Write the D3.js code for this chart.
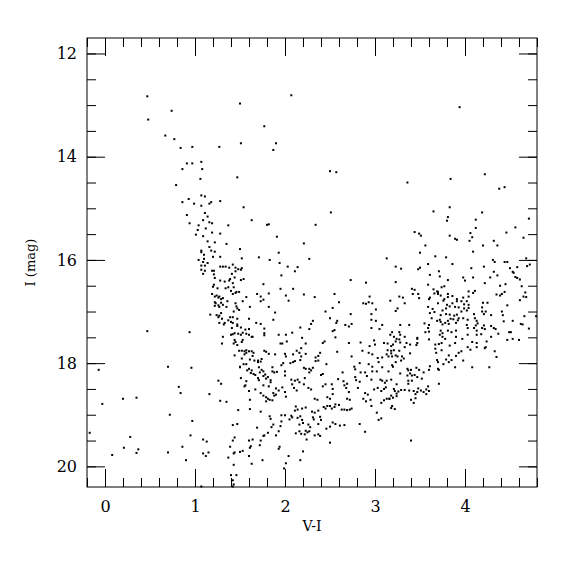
<!DOCTYPE html>
<html>
<head>
<meta charset="utf-8">
<script src="https://cdn.jsdelivr.net/npm/d3@7"></script>
<style>
  body { margin: 0; background: #fff; }
  svg text { font-family: "DejaVu Serif", serif; fill: #000; }
</style>
</head>
<body>
<div id="chart"></div>
<script>
// axis ticks
const xMajorTicks = [0, 1, 2, 3, 4];
const yMajorTicks = [12, 14, 16, 18, 20];

// stars: [V-I, I]
const brightStars = [
  [0.47,12.83],[0.74,13.11],[0.48,13.28],[0.67,13.59],[0.77,13.66],[0.84,13.83],[0.97,13.81],[1.27,13.81],
  [1.07,14.10],[0.91,14.13],[0.97,14.13],[1.08,14.24],[0.86,14.24],[1.06,14.43],[0.79,14.55],[1.47,14.40],
  [2.07,12.81],[1.50,12.97],[1.77,13.41],[1.51,13.74],[1.90,13.74],[1.87,13.87],[2.50,14.28],[2.57,14.30],
  [3.94,13.04],[3.36,14.50],[3.84,14.43],[4.22,14.34],[4.44,14.59]
];

const blueBranch = [
  [1.07,14.75],[1.11,14.77],[0.93,14.82],[0.86,14.88],[0.99,14.91],[1.18,14.88],[1.16,14.91],[1.28,14.86],
  [1.07,14.95],[1.11,15.09],[0.91,15.13],[1.14,15.16],[1.09,15.23],[0.94,15.29],[1.16,15.27],[1.19,15.29],
  [1.04,15.33],[1.37,15.33],[1.12,15.39],[1.03,15.42],[1.19,15.47],[1.28,15.49],[1.01,15.51],[1.09,15.54],
  [1.14,15.64],[1.22,15.66],[1.35,15.69],[1.16,15.75],[1.18,15.82],[1.07,15.82],[1.07,15.85],[1.22,15.84],
  [1.10,15.90],[1.20,15.94],[1.28,15.94],[1.04,16.00],[1.10,15.98],[1.14,16.06],[1.09,16.04],[1.07,16.11],
  [1.11,16.11],[1.28,16.13],[1.31,16.13],[1.34,16.13],[1.38,16.15],[1.42,16.09],[1.45,16.15],[1.07,16.19],
  [1.19,16.21],[1.21,16.21],[1.11,16.21],[1.09,16.27],[1.21,16.28],[1.41,16.27],[1.45,16.22],[1.22,16.35],
  [1.39,16.37],[1.44,16.34],[1.38,16.40],[1.28,16.40],[1.33,16.42],[1.42,16.45],[1.21,16.48],[1.20,16.52],
  [1.25,16.55],[1.34,16.55],[1.37,16.53],[1.43,16.53],[1.46,16.62],[1.42,16.66],[1.45,16.64],[1.40,16.60],
  [1.19,16.66],[1.24,16.69],[1.27,16.71],[1.26,16.73],[1.22,16.71],[1.31,16.74],[1.29,16.76],[1.36,16.80],
  [1.22,16.82],[1.23,16.84],[1.29,16.83],[1.31,16.87],[1.45,16.84],[1.46,16.90],[1.26,16.88],[1.27,16.91],
  [1.35,16.91],[1.22,16.89],[1.43,17.00],[1.29,17.03],[1.17,17.06],[1.24,17.07],[1.27,17.08],[1.26,17.11],
  [1.39,17.11],[1.42,17.11],[1.30,17.14],[1.37,17.17],[1.40,17.20],[1.33,17.22],[1.27,17.22],[1.42,17.22],
  [1.32,17.25],[1.41,17.32],[1.44,17.42],[1.42,17.44],[1.40,17.45],[1.31,17.49],[0.47,17.38],[0.94,17.40]
];

const midField = [
  [1.54,14.98],[2.51,15.08],[1.63,15.23],[1.80,15.32],[1.82,15.31],[2.34,15.32],[1.91,15.55],[2.21,15.68],
  [1.50,15.79],[1.93,15.86],[1.52,15.97],[1.71,15.95],[1.83,16.00],[2.27,15.98],[3.13,15.97],[1.94,16.06],
  [1.52,16.16],[1.51,16.19],[1.48,16.18],[2.03,16.13],[2.14,16.14],[2.11,16.22],[1.96,16.30],[1.54,16.37],
  [1.51,16.39],[2.73,16.39],[2.90,16.44],[1.76,16.47],[1.95,16.56],[2.09,16.56],[1.49,16.62],[1.69,16.66],
  [1.73,16.71],[1.82,16.65],[2.01,16.69],[2.21,16.67],[2.33,16.72],[2.55,16.66],[2.94,16.71],[1.57,16.72],
  [1.76,16.77],[1.73,16.80],[2.04,16.79],[1.53,16.80],[2.60,16.82],[2.87,16.84],[2.90,16.85],[2.93,16.82],
  [2.97,16.84],[1.61,16.91],[1.82,16.91],[2.53,16.93],[1.47,16.94],[1.49,16.97],[3.01,16.96],[1.89,17.02],
  [2.45,17.00],[2.73,17.05],[2.96,17.05],[1.47,17.14],[1.60,17.14],[1.87,17.16],[2.50,17.13],[2.31,17.18],
  [2.58,17.18],[2.57,17.22],[2.96,17.16],[3.01,17.18],[2.29,17.24],[1.68,17.22],[1.73,17.24],[1.47,17.25],
  [1.47,17.28],[2.67,17.26],[2.71,17.29],[2.74,17.24],[3.08,17.26],[2.17,17.31],[1.51,17.31],[1.60,17.34],
  [1.56,17.35],[1.77,17.33],[2.27,17.34],[2.96,17.32],[3.05,17.34],[2.53,17.38],[2.55,17.36],[1.53,17.41],
  [1.57,17.43],[1.48,17.43],[1.77,17.42],[1.77,17.46],[2.08,17.41],[1.60,17.45],[1.63,17.49],[1.64,17.49],
  [1.93,17.45],[2.01,17.45],[1.51,17.45],[2.19,17.51],[2.56,17.50]
];

const redClump = [
  [4.38,14.62],[3.83,14.98],[3.65,15.06],[4.19,15.08],[3.81,15.17],[3.80,15.24],[4.71,15.20],[4.12,15.22],
  [4.12,15.38],[4.56,15.37],[3.44,15.46],[3.49,15.49],[3.51,15.53],[4.06,15.48],[4.08,15.56],[4.46,15.47],
  [3.83,15.53],[3.89,15.59],[3.91,15.61],[4.65,15.57],[4.05,15.63],[4.32,15.63],[3.56,15.72],[4.20,15.72],
  [4.36,15.72],[4.09,15.84],[3.50,15.86],[3.67,15.93],[3.79,15.95],[4.68,15.97],[4.31,16.00],[4.33,16.04],
  [4.44,16.04],[4.47,16.04],[3.59,16.08],[3.86,16.08],[4.72,16.09],[4.69,16.12],[3.23,16.13],[3.29,16.17],
  [3.50,16.15],[3.48,16.18],[4.07,16.16],[4.21,16.13],[4.50,16.16],[4.53,16.23],[4.54,16.25],[4.58,16.14],
  [3.71,16.22],[4.32,16.23],[3.61,16.29],[3.72,16.32],[3.98,16.34],[4.00,16.40],[4.09,16.34],[4.28,16.34],
  [4.36,16.30],[4.56,16.33],[4.58,16.35],[4.61,16.38],[3.23,16.43],[3.81,16.39],[4.22,16.45],[4.45,16.47],
  [3.59,16.48],[3.77,16.51],[3.74,16.53],[4.63,16.51],[4.39,16.50],[3.41,16.56],[3.44,16.58],[3.65,16.57],
  [3.69,16.61],[3.70,16.66],[3.73,16.69],[3.66,16.65],[3.70,16.62],[4.11,16.60],[4.09,16.64],[4.04,16.61],
  [4.44,16.62],[4.41,16.66],[4.67,16.63],[4.68,16.72],[4.35,16.67],[4.39,16.69],[3.42,16.66],[3.48,16.66],
  [3.81,16.66],[3.86,16.70],[3.81,16.72],[3.98,16.73],[4.04,16.71],[3.27,16.71],[3.31,16.73],[3.49,16.74],
  [3.61,16.73],[3.60,16.76],[3.77,16.76],[3.76,16.79],[3.91,16.76],[3.91,16.80],[3.17,16.79],[3.70,16.84],
  [3.96,16.80],[4.02,16.80],[4.04,16.87],[4.04,16.93],[3.99,16.86],[4.20,16.83],[4.25,16.83],[3.80,16.87],
  [3.83,16.90],[3.86,16.84],[3.89,16.91],[4.65,16.71],[4.61,16.78],[4.47,16.88],[3.33,16.84],[3.59,16.91],
  [3.64,16.95],[3.66,17.01],[3.25,16.94],[3.23,16.99],[3.79,16.94],[3.75,16.98],[3.79,17.05],[3.93,16.92],
  [3.96,17.00],[3.99,16.94],[4.02,16.98],[4.19,16.92],[4.19,17.00],[4.23,17.00],[4.21,17.05],[4.41,17.00],
  [3.83,17.06],[3.88,17.08],[3.91,17.06],[3.93,17.13],[3.87,17.15],[3.84,17.14],[3.81,17.18],[3.61,17.03],
  [3.73,17.07],[3.72,17.16],[3.69,17.18],[3.73,17.20],[3.75,17.25],[3.63,17.13],[4.10,17.05],[4.11,17.13],
  [4.29,17.07],[4.42,17.07],[4.03,17.16],[4.13,17.18],[4.14,17.23],[3.98,17.13],[4.66,17.09],[4.79,17.09],
  [4.53,17.18],[4.43,17.19],[3.55,17.23],[3.60,17.26],[3.59,17.32],[3.28,17.26],[3.38,17.26],[3.78,17.22],
  [3.82,17.24],[3.90,17.22],[3.92,17.17],[4.02,17.26],[4.03,17.32],[4.12,17.27],[4.10,17.32],[4.13,17.37],
  [4.21,17.27],[4.19,17.32],[4.22,17.34],[4.29,17.28],[4.32,17.32],[4.34,17.34],[4.62,17.24],[4.64,17.25],
  [3.73,17.37],[3.75,17.42],[3.81,17.37],[3.85,17.40],[3.90,17.37],[3.56,17.40],[3.60,17.39],[4.03,17.45],
  [4.18,17.44],[4.37,17.43],[4.49,17.40],[4.51,17.40],[4.71,17.33],[3.19,17.40],[3.17,17.45],[3.21,17.49],
  [3.27,17.40],[3.28,17.45],[3.33,17.49],[3.47,17.51],[3.72,17.45],[3.75,17.49],[3.90,17.49],[4.29,17.49],
  [4.13,17.45]
];

const faintLeft = [
  [1.30,17.62],[1.43,17.62],[1.45,17.59],[1.44,17.55],[1.44,17.85],[-0.07,18.13],[0.70,18.07],[0.96,18.09],
  [1.26,18.34],[1.29,18.40],[0.82,18.46],[0.84,18.58],[1.16,18.60],[0.20,18.69],[0.35,18.67],[1.28,18.73],
  [1.35,18.75],[-0.03,18.79],[0.72,19.00],[0.97,19.12],[1.42,19.20],[-0.17,19.35],[0.28,19.43],[0.95,19.40],
  [1.44,19.44],[1.42,19.50],[1.09,19.48],[1.13,19.52],[0.86,19.62],[0.21,19.64],[0.37,19.67],[1.39,19.62],
  [0.35,19.74],[0.70,19.73],[1.09,19.75],[1.12,19.80],[1.15,19.73],[1.44,19.73],[1.43,19.75],[1.37,19.83],
  [0.08,19.78],[0.90,19.88],[1.43,19.97],[1.40,20.17],[1.42,20.27],[1.43,20.35],[1.42,20.39],[1.07,20.39],
  [1.46,20.17]
];

const faintMid = [
  [1.52,17.59],[1.53,17.55],[1.47,17.65],[1.95,17.62],[1.97,17.62],[2.02,17.58],[2.23,17.62],[2.42,17.61],
  [2.44,17.58],[2.71,17.61],[2.84,17.60],[2.94,17.67],[2.99,17.56],[3.00,17.64],[3.10,17.61],[1.49,17.76],
  [1.52,17.76],[1.55,17.77],[1.57,17.80],[1.55,17.83],[1.57,17.75],[1.60,17.77],[1.63,17.77],[1.65,17.80],
  [1.64,17.86],[1.52,17.91],[1.77,17.76],[1.79,17.78],[1.82,17.82],[1.89,17.83],[2.00,17.82],[2.01,17.87],
  [2.09,17.83],[2.16,17.80],[2.18,17.87],[2.23,17.82],[2.18,17.71],[2.13,17.76],[2.37,17.86],[2.39,17.80],
  [2.34,17.89],[2.58,17.78],[2.74,17.87],[2.86,17.76],[2.93,17.80],[2.97,17.83],[3.03,17.90],[3.08,17.89],
  [3.04,17.98],[3.13,17.83],[1.61,17.93],[1.66,17.95],[1.70,17.95],[1.70,17.98],[1.73,17.97],[1.74,17.92],
  [1.54,18.02],[1.57,18.02],[1.50,18.07],[1.50,18.08],[1.60,18.11],[1.58,18.14],[1.63,18.14],[1.62,18.19],
  [1.65,18.21],[1.67,18.23],[1.71,18.08],[1.74,18.13],[1.72,18.18],[1.76,18.16],[1.78,18.22],[1.76,18.25],
  [1.81,18.27],[1.79,18.30],[1.70,18.29],[1.71,18.33],[1.86,18.08],[1.86,18.16],[1.88,18.18],[1.91,18.17],
  [1.96,18.04],[1.98,18.00],[2.00,18.16],[2.00,18.24],[2.06,18.00],[2.09,17.98],[2.11,17.96],[2.17,17.94],
  [2.21,18.09],[2.23,18.11],[2.27,18.11],[2.29,18.14],[2.27,18.18],[2.31,18.09],[2.34,17.96],[2.37,17.95],
  [2.46,18.02],[2.42,18.21],[2.40,18.23],[2.22,18.29],[2.64,18.18],[2.77,18.07],[2.78,18.12],[2.83,18.00],
  [2.84,18.18],[2.89,18.18],[2.93,18.02],[2.97,18.07],[2.97,18.16],[2.91,18.25],[2.96,18.32],[3.02,18.16],
  [3.08,18.08],[3.06,18.32],[3.08,18.34],[3.11,18.38],[1.56,18.43],[1.67,18.51],[1.76,18.43],[1.82,18.45],
  [1.84,18.37],[1.84,18.33],[1.90,18.49],[1.93,18.53],[1.97,18.47],[2.07,18.32],[2.08,18.41],[2.11,18.34],
  [2.14,18.32],[2.16,18.37],[2.10,18.48],[2.13,18.53],[2.00,18.56],[2.01,18.65],[1.87,18.58],[1.88,18.63],
  [1.90,18.61],[1.83,18.71],[1.86,18.72],[1.79,18.66],[1.79,18.74],[1.81,18.69],[1.73,18.58],[1.76,18.63],
  [1.61,18.71],[1.61,18.89],[1.48,18.91],[1.47,19.18],[2.21,18.41],[2.26,18.48],[2.29,18.51],[2.33,18.69],
  [2.36,18.71],[2.42,18.45],[2.45,18.41],[2.47,18.66],[2.50,18.69],[2.52,18.41],[2.53,18.50],[2.59,18.31],
  [2.53,18.60],[2.60,18.81],[2.65,18.35],[2.66,18.43],[2.68,18.48],[2.69,18.40],[2.71,18.56],[2.69,18.69],
  [2.72,18.71],[2.78,18.27],[2.79,18.33],[2.83,18.36],[2.81,18.48],[2.87,18.69],[2.89,18.58],[2.92,18.61],
  [2.90,18.74],[2.95,18.71],[2.96,18.83],[2.99,18.51],[3.03,18.48],[3.07,18.54],[3.10,18.50],[3.12,18.47],
  [3.07,18.77],[3.10,18.72],[3.02,18.96],[3.04,19.10],[3.07,19.07],[2.83,19.18],[2.89,19.33],[2.72,18.90],
  [2.74,18.88],[2.63,18.90],[2.66,18.90],[2.69,18.91],[2.50,18.83],[2.52,18.88],[2.55,18.85],[2.56,18.80],
  [2.45,18.88],[2.47,18.83],[2.30,18.94],[2.33,18.96],[2.37,18.92],[2.40,19.10],[2.46,19.27],[2.50,19.23],
  [2.53,19.15],[2.56,19.18],[2.61,19.21],[2.66,19.20],[2.50,19.54],[2.33,19.40],[2.37,19.38],[2.39,19.41],
  [2.26,19.19],[2.28,19.24],[2.27,19.32],[2.25,19.34],[2.22,19.38],[2.23,19.31],[2.20,19.16],[2.19,19.10],
  [2.14,19.06],[2.17,19.03],[2.07,19.02],[2.08,19.05],[2.05,19.09],[2.11,18.92],[2.14,18.90],[2.12,18.84],
  [2.19,18.88],[2.23,18.86],[2.16,19.19],[2.12,19.36],[2.18,19.37],[2.16,19.32],[2.24,19.48],[2.20,19.71],
  [2.17,19.88],[2.04,19.80],[2.01,19.94],[1.99,20.04],[1.94,19.62],[1.93,19.66],[1.96,19.13],[1.95,19.22],
  [1.93,19.32],[1.90,19.40],[1.87,19.19],[1.85,19.24],[1.81,19.35],[1.77,19.40],[1.83,19.03],[1.84,19.08],
  [1.73,18.94],[1.69,19.25],[1.76,19.41],[1.73,19.50],[1.72,19.59],[1.64,19.48],[1.60,19.50],[1.61,19.64],
  [1.62,19.61],[1.50,19.72],[1.53,19.70],[1.60,19.80],[1.63,19.95],[1.75,19.88],[1.55,18.45],[1.60,18.54],
  [1.51,18.29],[1.57,18.35],[1.96,19.01],[2.00,19.01],[2.43,18.85],[2.39,19.04],[2.37,19.18],[2.31,19.05],
  [2.32,19.09]
];

const faintRight = [
  [3.14,17.62],[3.18,17.67],[3.20,17.64],[3.23,17.58],[3.24,17.53],[3.28,17.60],[3.27,17.54],[3.35,17.61],
  [3.39,17.64],[3.47,17.61],[3.46,17.65],[3.47,17.53],[3.60,17.54],[3.67,17.64],[3.71,17.63],[3.74,17.61],
  [3.78,17.53],[3.83,17.66],[3.89,17.61],[3.97,17.53],[4.08,17.59],[4.13,17.61],[4.13,17.69],[4.24,17.58],
  [4.22,17.71],[4.23,17.69],[4.47,17.55],[4.53,17.53],[4.60,17.55],[3.14,17.75],[3.18,17.76],[3.21,17.75],
  [3.18,17.81],[3.15,17.87],[3.19,17.87],[3.23,17.85],[3.25,17.87],[3.27,17.76],[3.30,17.87],[3.33,17.69],
  [3.39,17.81],[3.32,17.91],[3.29,17.95],[3.23,17.98],[3.19,18.04],[3.20,18.07],[3.67,17.72],[3.68,17.80],
  [3.74,17.75],[3.82,17.85],[3.90,17.86],[3.93,17.80],[3.96,17.77],[4.03,17.69],[4.06,17.74],[4.33,17.77],
  [4.35,17.88],[3.69,17.94],[3.70,17.98],[3.79,17.93],[3.82,17.98],[3.85,17.94],[3.76,18.02],[3.98,17.95],
  [3.89,18.08],[4.08,18.08],[4.27,18.08],[3.61,18.06],[3.60,18.13],[3.70,18.11],[3.71,18.13],[3.46,18.09],
  [3.49,18.13],[3.40,18.13],[3.36,18.11],[3.37,18.14],[3.28,18.20],[3.15,18.16],[3.54,18.18],[3.39,18.20],
  [3.47,18.27],[3.36,18.24],[3.41,18.24],[3.44,18.23],[3.52,18.30],[3.18,18.32],[3.13,18.34],[3.37,18.34],
  [3.41,18.34],[3.37,18.40],[3.24,18.41],[3.71,18.40],[3.59,18.45],[3.57,18.51],[3.60,18.54],[3.21,18.50],
  [3.22,18.54],[3.26,18.55],[3.24,18.59],[3.29,18.52],[3.33,18.52],[3.38,18.53],[3.43,18.54],[3.48,18.49],
  [3.47,18.56],[3.51,18.53],[3.54,18.56],[3.45,18.60],[3.57,18.60],[3.18,18.63],[3.16,18.69],[3.20,18.67],
  [3.13,18.69],[3.16,18.69],[3.24,18.64],[3.40,18.71],[3.45,18.68],[3.43,18.77],[3.19,18.83],[3.18,18.87],
  [3.22,18.89],[3.40,19.50]
];

const stars = [...brightStars, ...blueBranch, ...midField, ...redClump, ...faintLeft, ...faintMid, ...faintRight];

const margin = { top: 38, right: 38, bottom: 88, left: 87 };
const width = 575 - margin.left - margin.right;
const height = 575 - margin.top - margin.bottom;

const svg = d3
  .select("#chart")
  .append("svg")
  .attr("width", 575)
  .attr("height", 575)
  .append("g")
  .attr("transform", `translate(${margin.left},${margin.top})`);

const x = d3.scaleLinear().domain([-0.2, 4.8]).range([0, width]);
const y = d3.scaleLinear().domain([11.7, 20.4]).range([0, height]);

const xMinor = d3.range(-0.2, 4.81, 0.2).map((d) => +d.toFixed(1));
const yMinor = d3.range(11.5, 20.41, 0.5).filter((d) => d >= 11.7);

function styleAxis(g) {
  g.select(".domain").remove();
  g.selectAll("line").attr("stroke", "#000").attr("stroke-width", 1);
  g.selectAll("text")
    .style("font-family", "'DejaVu Serif', serif")
    .style("font-size", "16px")
    .attr("fill", "#000");
}

// minor ticks (all four sides)
svg.append("g").attr("transform", `translate(0,${height})`)
  .call(d3.axisBottom(x).tickValues(xMinor).tickSize(-9).tickFormat(""))
  .call(styleAxis);
svg.append("g")
  .call(d3.axisTop(x).tickValues(xMinor).tickSize(-9).tickFormat(""))
  .call(styleAxis);
svg.append("g")
  .call(d3.axisLeft(y).tickValues(yMinor).tickSize(-9).tickFormat(""))
  .call(styleAxis);
svg.append("g").attr("transform", `translate(${width},0)`)
  .call(d3.axisRight(y).tickValues(yMinor).tickSize(-9).tickFormat(""))
  .call(styleAxis);

// major ticks
svg.append("g").attr("transform", `translate(0,${height})`)
  .call(d3.axisBottom(x).tickValues(xMajorTicks).tickSize(-18).tickPadding(14).tickFormat(d3.format("d")))
  .call(styleAxis);
svg.append("g")
  .call(d3.axisTop(x).tickValues(xMajorTicks).tickSize(-18).tickFormat(""))
  .call(styleAxis);
svg.append("g")
  .call(d3.axisLeft(y).tickValues(yMajorTicks).tickSize(-18).tickPadding(10).tickFormat(d3.format("d")))
  .call(styleAxis);
svg.append("g").attr("transform", `translate(${width},0)`)
  .call(d3.axisRight(y).tickValues(yMajorTicks).tickSize(-18).tickFormat(""))
  .call(styleAxis);

// frame
svg.append("rect")
  .attr("width", width)
  .attr("height", height)
  .attr("fill", "none")
  .attr("stroke", "#000")
  .attr("stroke-width", 1);

// stars
svg.append("g")
  .selectAll("rect")
  .data(stars)
  .enter()
  .append("rect")
  .attr("x", (d) => x(d[0]) - 1)
  .attr("y", (d) => y(d[1]) - 1)
  .attr("width", 2)
  .attr("height", 2)
  .attr("fill", "#000");

// axis titles
svg.append("text")
  .attr("x", width / 2)
  .attr("y", height + 44)
  .attr("text-anchor", "middle")
  .style("font-size", "14px")
  .text("V-I");

svg.append("text")
  .attr("transform", `translate(${-52},${height / 2}) rotate(-90)`)
  .attr("text-anchor", "middle")
  .style("font-size", "13px")
  .text("I (mag)");
</script>
</body>
</html>
